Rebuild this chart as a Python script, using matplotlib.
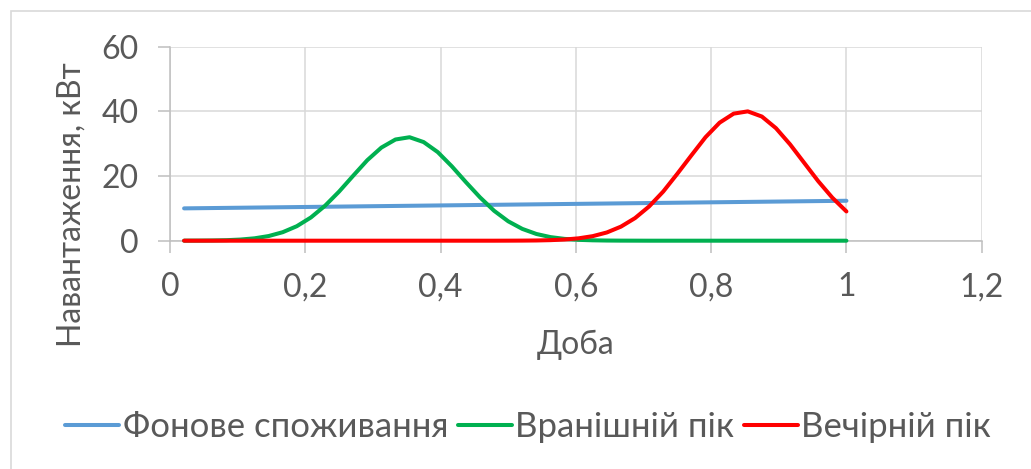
import matplotlib
matplotlib.use("Agg")
import matplotlib.pyplot as plt
from matplotlib.patches import Rectangle

plt.rcParams["font.family"] = ["Lato", "DejaVu Sans"]

# Half-hour steps through the day (fraction of a day)
day_fraction = [i / 48 for i in range(1, 49)]

background_load = [
    10.00, 10.05, 10.10, 10.15, 10.20, 10.25, 10.30, 10.35, 10.40, 10.45, 10.50, 10.55,
    10.60, 10.65, 10.70, 10.75, 10.80, 10.85, 10.90, 10.95, 11.00, 11.05, 11.10, 11.15,
    11.20, 11.25, 11.30, 11.35, 11.40, 11.45, 11.50, 11.55, 11.60, 11.65, 11.70, 11.75,
    11.80, 11.85, 11.90, 11.95, 12.00, 12.05, 12.10, 12.15, 12.20, 12.25, 12.30, 12.35,
]

morning_peak = [
    0.01, 0.03, 0.07, 0.16, 0.36, 0.74, 1.44, 2.63, 4.49, 7.19, 10.8, 15.2,
    20.1, 24.9, 28.8, 31.3, 32.0, 30.5, 27.4, 23.0, 18.1, 13.4, 9.25, 6.0,
    3.65, 2.08, 1.11, 0.56, 0.26, 0.12, 0.05, 0.02, 0.01, 0.0, 0.0, 0.0,
    0.0, 0.0, 0.0, 0.0, 0.0, 0.0, 0.0, 0.0, 0.0, 0.0, 0.0, 0.0,
]

evening_peak = [
    0.0, 0.0, 0.0, 0.0, 0.0, 0.0, 0.0, 0.0, 0.0, 0.0, 0.0, 0.0,
    0.0, 0.0, 0.0, 0.0, 0.0, 0.0, 0.0, 0.0, 0.0, 0.0, 0.0, 0.01,
    0.03, 0.07, 0.17, 0.36, 0.74, 1.41, 2.55, 4.35, 6.99, 10.6, 15.2, 20.7,
    26.4, 32.0, 36.5, 39.3, 40.0, 38.4, 34.8, 29.8, 24.1, 18.4, 13.3, 9.05,
]

series_names = ["Фонове споживання", "Вранішній пік", "Вечірній пік"]
series_colors = ["#5B9BD5", "#00B050", "#FF0000"]

x_ticks = [0, 0.2, 0.4, 0.6, 0.8, 1.0, 1.2]
x_tick_labels = ["0", "0,2", "0,4", "0,6", "0,8", "1", "1,2"]
y_ticks = [0, 20, 40, 60]
y_tick_labels = ["0", "20", "40", "60"]

x_title = "Доба"
y_title = "Навантаження, кВт"

W, H = 1031, 469
text_color = "#595959"
fs = 23

fig = plt.figure(figsize=(W / 100, H / 100), dpi=100)
ax = fig.add_axes([170 / W, 1 - 240.7 / H, (981.7 - 170) / W, (240.7 - 46.7) / H])

for values, name, color in zip([background_load, morning_peak, evening_peak],
                               series_names, series_colors):
    ax.plot(day_fraction, values, color=color, lw=2.9, label=name,
            solid_capstyle="round", solid_joinstyle="round", zorder=3,
            clip_on=False)

ax.set_xlim(0, 1.2)
ax.set_ylim(0, 60)
ax.set_xticks(x_ticks)
ax.set_xticklabels(x_tick_labels)
ax.set_yticks(y_ticks)
ax.set_yticklabels(y_tick_labels)
ax.grid(True, color="#d9d9d9", lw=1.1, zorder=0)
ax.set_axisbelow(True)
for side in ["top", "right"]:
    ax.spines[side].set_visible(False)
for side in ["left", "bottom"]:
    ax.spines[side].set_color("#bfbfbf")
    ax.spines[side].set_linewidth(1.1)
    ax.spines[side].set_zorder(1)
ax.tick_params(axis="both", direction="out", length=8.6, width=1.1,
               color="#bfbfbf", labelcolor=text_color, labelsize=fs)
ax.tick_params(axis="x", pad=14)
ax.tick_params(axis="y", pad=14)

fig.text(576 / W, 1 - 345 / H, x_title, ha="center", va="center",
         color=text_color, fontsize=fs)
fig.text(72 / W, 1 - 205 / H, y_title, ha="center", va="center",
         rotation=90, color=text_color, fontsize=fs)

fig.legend(loc="center", bbox_to_anchor=(528 / W, 1 - 427 / H), ncol=3,
           frameon=False, fontsize=25, labelcolor=text_color,
           handlelength=1.55, handletextpad=0.1, columnspacing=0.28)

fig.add_artist(Rectangle((11 / W, -0.1), 2, 1.1 - 11.5 / H, transform=fig.transFigure,
                         fill=False, ec="#d9d9d9", lw=1.2))

fig.savefig("out.png", dpi=100)
